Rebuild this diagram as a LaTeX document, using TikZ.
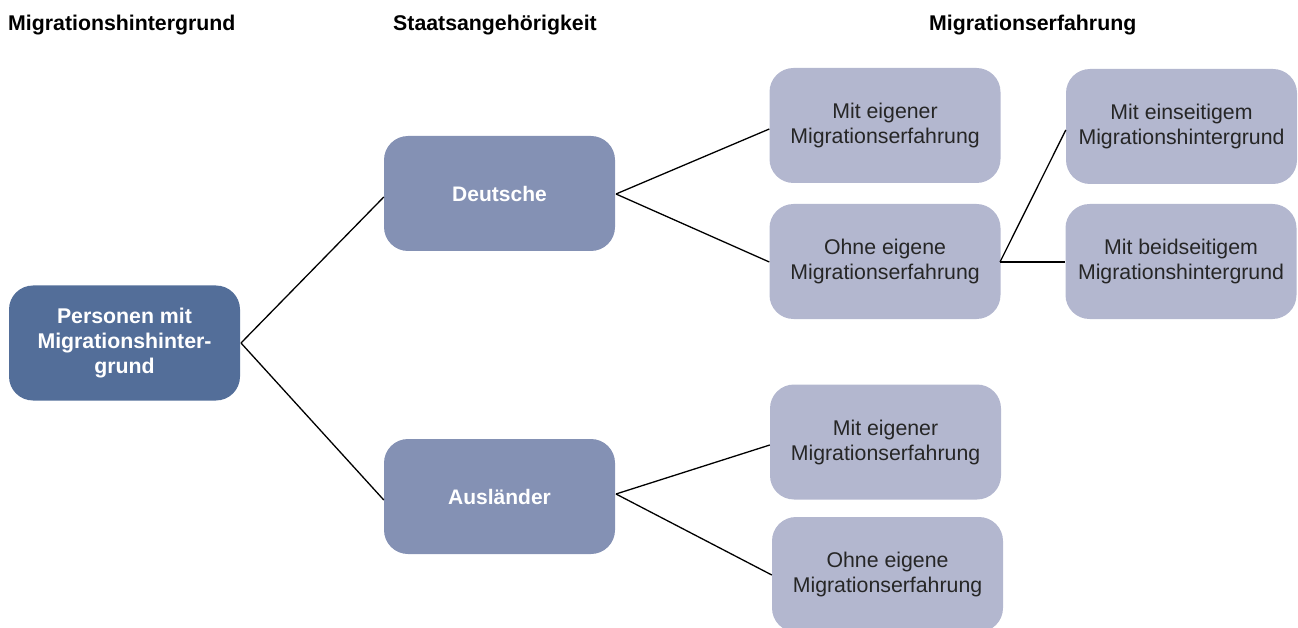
\documentclass[tikz,border=0pt]{standalone}
\usepackage{fontspec}
\setmainfont{Liberation Sans}
\definecolor{cRoot}{HTML}{536E99}
\definecolor{cMid}{HTML}{8491B4}
\definecolor{cLeaf}{HTML}{B3B7CF}
\begin{document}
\begin{tikzpicture}[x=1pt,y=-1pt,
  box/.style={rounded corners=24pt, minimum width=231pt, minimum height=115pt, inner sep=0pt, align=center, font=\fontsize{21.3}{25}\selectfont},
  rootbox/.style={box, fill=cRoot, text=white, font=\bfseries\fontsize{21.3}{25}\selectfont},
  midbox/.style={box, fill=cMid, text=white, font=\bfseries\fontsize{21}{25}\selectfont},
  leafbox/.style={box, fill=cLeaf, text=black!85},
  head/.style={font=\bfseries\fontsize{21.3}{25}\selectfont, anchor=west, inner sep=0pt},
  conn/.style={draw=black, line width=1.3pt}]
\useasboundingbox (0,0) rectangle (1298,628);
\begin{scope}
\clip (0,0) rectangle (1298,628);
\node[head] (h1) at (8,25) {Migrationshintergrund};
\node[head] (h2) at (393,25) {Staatsangehörigkeit};
\node[head] (h3) at (929,25) {Migrationserfahrung};

\node[rootbox] (root) at (124.5,343) {Personen mit\\Migrationshinter-\\grund};
\node[midbox] (de) at (499.5,193.5) {Deutsche};
\node[midbox] (aus) at (499.5,496.5) {Ausländer};
\node[leafbox] (m1) at (885,125.5) {Mit eigener\\Migrationserfahrung};
\node[leafbox] (o1) at (885,261.5) {Ohne eigene\\Migrationserfahrung};
\node[leafbox] (ein) at (1181.5,126.5) {Mit einseitigem\\Migrationshintergrund};
\node[leafbox] (bei) at (1181,261.5) {Mit beidseitigem\\Migrationshintergrund};
\node[leafbox] (m2) at (885.5,442) {Mit eigener\\Migrationserfahrung};
\node[leafbox] (o2) at (887.5,574.5) {Ohne eigene\\Migrationserfahrung};

\coordinate (rootR) at (241,343);
\draw[conn] (rootR) -- (de.west |- 0,197);
\draw[conn] (rootR) -- (aus.west |- 0,500);
\coordinate (deR) at (616,194);
\draw[conn] (deR) -- (m1.west |- 0,129);
\draw[conn] (deR) -- (o1.west |- 0,262);
\coordinate (o1R) at (1000,262);
\draw[conn] (o1R) -- (ein.west |- 0,130);
\draw[conn] (o1R) -- (bei.west |- 0,262);
\coordinate (ausR) at (616,494);
\draw[conn] (ausR) -- (m2.west |- 0,445);
\draw[conn] (ausR) -- (o2.west |- 0,575);
\end{scope}
\end{tikzpicture}
\end{document}
